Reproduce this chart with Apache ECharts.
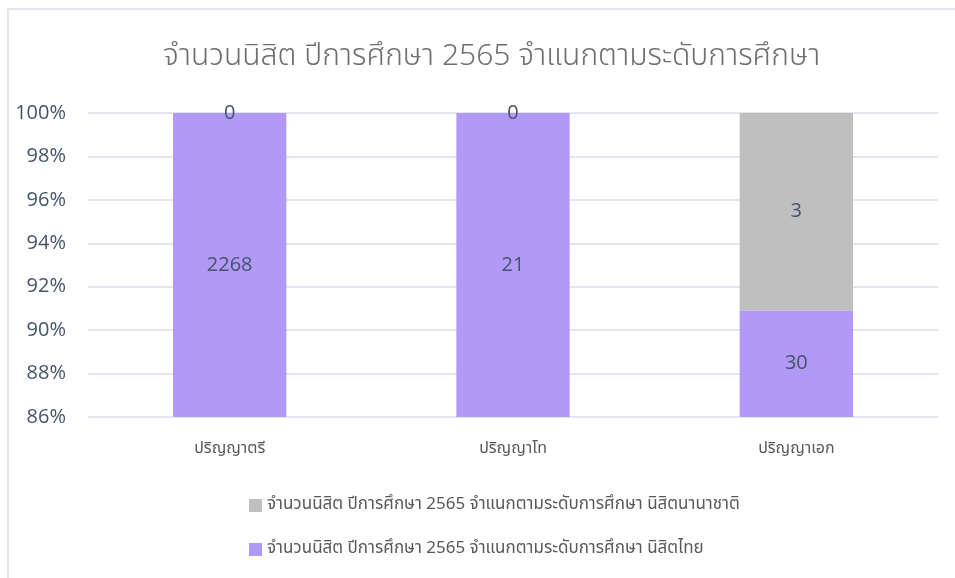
<!DOCTYPE html>
<html>
<head>
<meta charset="utf-8">
<script src="https://cdn.jsdelivr.net/npm/echarts@6/dist/echarts.min.js"></script>
<style>
    html, body { margin: 0; padding: 0; background: #fff; }
    #frame { position: absolute; left: 7px; top: 8px; width: 948px; height: 570px;
             border-left: 2px solid #E3E6EC; border-top: 2px solid #E3E6EC; }
    #main { position: absolute; left: 0; top: 0; width: 955px; height: 578px; }
</style>
</head>
<body>
<div id="frame"></div>
<div id="main"></div>
<script>
var titleText = 'จำนวนนิสิต ปีการศึกษา 2565 จำแนกตามระดับการศึกษา';
var categories = ['ปริญญาตรี', 'ปริญญาโท', 'ปริญญาเอก'];
var thaiName = 'จำนวนนิสิต ปีการศึกษา 2565 จำแนกตามระดับการศึกษา นิสิตไทย';
var intlName = 'จำนวนนิสิต ปีการศึกษา 2565 จำแนกตามระดับการศึกษา นิสิตนานาชาติ';
var thaiValues = [2268, 21, 30];
var intlValues = [0, 0, 3];

var numFont = '"Open Sans", "Noto Sans", sans-serif';
var thFont = '"Noto Sans Thai", "Noto Sans", "DejaVu Sans", sans-serif';

// แปลงเป็นเปอร์เซ็นต์ของแต่ละระดับ
function toPercent(vals) {
    var out = [];
    for (var i = 0; i < vals.length; i++) {
        var total = thaiValues[i] + intlValues[i];
        out.push({ value: vals[i] / total * 100, raw: vals[i] });
    }
    return out;
}

var chart = echarts.init(document.getElementById('main'));

var labelStyle = {
    show: true,
    position: 'inside',
    fontFamily: numFont,
    fontSize: 20,
    color: '#44546A',
    formatter: function (p) { return p.data.raw; }
};

chart.setOption({
    animation: false,
    title: {
        text: titleText,
        left: 158,
        top: 39,
        textStyle: { fontFamily: thFont, fontSize: 30, fontWeight: 300, color: '#6E6E6E' }
    },
    legend: {
        orient: 'vertical',
        left: 244,
        top: 492,
        itemGap: 27,
        itemWidth: 13,
        itemHeight: 13,
        itemStyle: { borderWidth: 0 },
        icon: 'rect',
        data: [intlName, thaiName],
        textStyle: { fontFamily: thFont, fontSize: 17, color: '#595959' }
    },
    grid: { left: 88, right: 17, top: 113, bottom: 161 },
    xAxis: {
        type: 'category',
        data: categories,
        axisLine: { show: false },
        axisTick: { show: false },
        axisLabel: { margin: 25, fontFamily: thFont, fontSize: 16, color: '#595959' }
    },
    yAxis: {
        type: 'value',
        min: 86,
        max: 100,
        interval: 2,
        axisLabel: {
            margin: 22,
            fontFamily: numFont,
            fontSize: 20,
            color: '#44546A',
            formatter: '{value}%'
        },
        splitLine: { lineStyle: { color: '#E3E6EC', width: 2 } }
    },
    series: [
        {
            name: thaiName,
            type: 'bar',
            stack: 'total',
            barCategoryGap: '60%',
            itemStyle: { color: '#B199F5' },
            label: labelStyle,
            data: toPercent(thaiValues)
        },
        {
            name: intlName,
            type: 'bar',
            stack: 'total',
            barCategoryGap: '60%',
            itemStyle: { color: '#BFBFBF' },
            label: labelStyle,
            data: toPercent(intlValues)
        }
    ]
});
</script>
</body>
</html>
